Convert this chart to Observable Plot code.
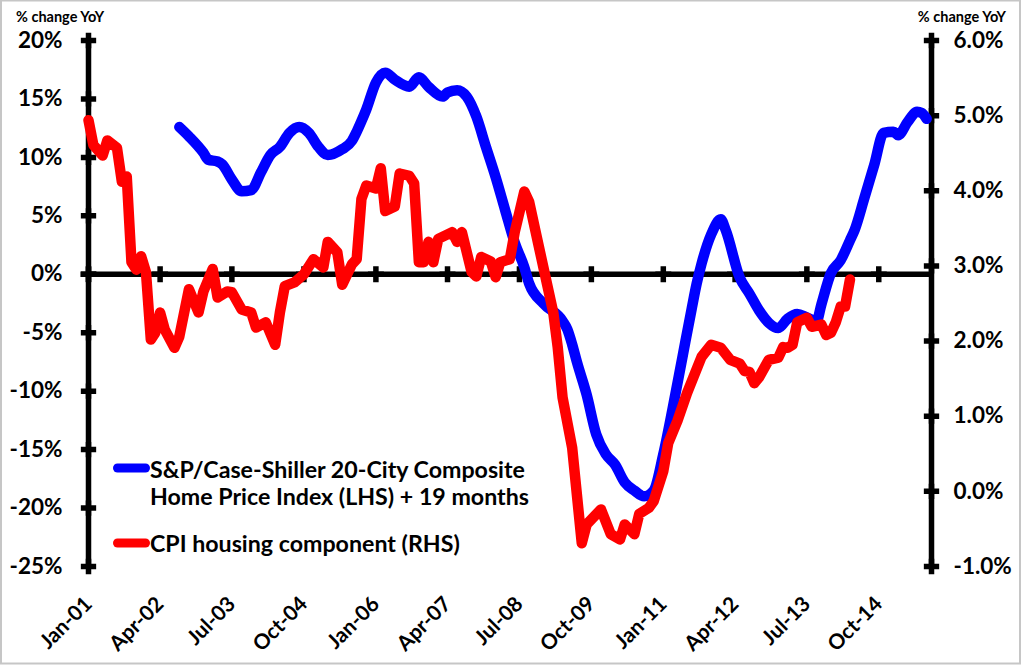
<!DOCTYPE html>
<html><head><meta charset="utf-8">
<script src="https://cdn.jsdelivr.net/npm/d3@7"></script>
<script src="https://cdn.jsdelivr.net/npm/@observablehq/plot@0.6"></script>
<style>body{margin:0;background:#fff;} #chart svg{display:block;}</style>
</head><body><div id="chart"></div>
<script>
// CPI housing component, % change YoY (right-hand scale)
const cpiDates = ["2001-01","2001-02","2001-04","2001-05","2001-07","2001-08","2001-09","2001-10","2001-11","2001-12",
"2002-01","2002-02","2002-03","2002-04","2002-05","2002-07","2002-08","2002-10","2002-12",
"2003-01","2003-03","2003-04","2003-06","2003-07","2003-09","2003-11","2003-12",
"2004-02","2004-04","2004-05","2004-06","2004-08","2004-10","2004-12",
"2005-02","2005-03","2005-05","2005-06","2005-08","2005-09","2005-10","2005-11",
"2006-01","2006-02","2006-03","2006-05","2006-06","2006-08","2006-09","2006-10","2006-11","2006-12",
"2007-01","2007-02","2007-05","2007-06","2007-07","2007-09","2007-10","2007-11",
"2008-01","2008-02","2008-03","2008-05","2008-06","2008-08","2008-09","2008-11",
"2009-02","2009-03","2009-04","2009-06","2009-08","2009-09","2009-12",
"2010-02","2010-04","2010-05","2010-07","2010-08","2010-10","2010-11",
"2011-01","2011-02","2011-04","2011-06","2011-09","2011-11",
"2012-01","2012-03","2012-05","2012-06","2012-07","2012-08","2012-09","2012-11",
"2013-01","2013-02","2013-03","2013-04","2013-05","2013-07","2013-08","2013-10","2013-11","2013-12",
"2014-01","2014-02","2014-03","2014-04"];
const cpiValues = [4.94,4.61,4.47,4.67,4.57,4.12,4.19,3.05,2.95,3.13,
2.92,2.02,2.11,2.38,2.15,1.91,2.06,2.69,2.38,
2.66,2.96,2.58,2.66,2.65,2.42,2.38,2.18,
2.25,1.95,2.38,2.73,2.78,2.89,3.09,
2.98,3.32,3.18,2.75,3.02,3.09,3.89,4.07,
4.03,4.30,3.73,3.79,4.23,4.20,4.10,3.05,3.05,3.32,
3.05,3.36,3.45,3.32,3.45,2.92,2.86,3.12,
3.06,2.85,3.05,3.09,3.45,3.99,3.85,3.26,
2.38,1.92,1.25,0.58,-0.69,-0.44,-0.24,
-0.57,-0.64,-0.44,-0.57,-0.30,-0.22,-0.13,
0.27,0.64,0.94,1.31,1.79,1.95,
1.91,1.75,1.70,1.60,1.59,1.44,1.52,1.75,
1.78,1.92,1.91,1.95,2.25,2.31,2.19,2.22,2.08,2.11,
2.25,2.46,2.46,2.82];

// S&P/Case-Shiller 20-City, % change YoY shifted +19 months (left-hand scale)
const hpiDates = ["2002-08","2002-10","2003-01","2003-02","2003-04","2003-05","2003-07","2003-09","2003-11",
"2004-01","2004-03","2004-05","2004-07","2004-09","2004-11",
"2005-01","2005-03","2005-06","2005-08","2005-09","2005-10","2005-11",
"2006-01","2006-03","2006-05","2006-08","2006-10","2006-12",
"2007-03","2007-04","2007-06","2007-08","2007-10","2007-12",
"2008-02","2008-04","2008-06","2008-08","2008-09","2008-12",
"2009-04","2009-05","2009-06","2009-07","2009-09","2009-11",
"2010-01","2010-03","2010-05","2010-07","2010-09","2010-11",
"2011-01","2011-03","2011-05","2011-07","2011-08","2011-09","2011-11",
"2012-01","2012-02","2012-05","2012-07","2012-09","2012-11",
"2013-01","2013-03","2013-05","2013-07","2013-09","2013-10","2013-12",
"2014-02","2014-04","2014-05","2014-07","2014-09","2014-11",
"2015-01","2015-02","2015-04","2015-06","2015-07","2015-08"];
const hpiValues = [12.6,11.8,10.4,9.8,9.65,9.4,8.1,7.1,7.2,
8.7,10.2,10.9,12.1,12.6,12.1,
10.9,10.2,10.7,11.4,12.2,13.1,14.1,
16.4,17.25,16.65,16.05,16.85,16.05,
15.2,15.55,15.75,15.2,13.5,10.9,
8.3,5.5,2.7,0.6,-0.8,-2.5,
-4.0,-4.7,-6.0,-7.5,-10.3,-13.7,
-15.4,-16.3,-17.8,-18.5,-19.0,-18.5,
-15.4,-11.5,-7.2,-2.9,-0.8,0.9,3.4,
4.7,3.8,-0.3,-1.65,-3.1,-4.15,
-4.6,-3.8,-3.4,-3.7,-4.0,-2.6,0.1,
1.2,2.9,3.8,6.5,9.3,12.1,
12.2,11.9,13.0,13.9,13.8,13.3];

const leftTicks = [-25,-20,-15,-10,-5,0,5,10,15,20];
const rightTicks = [-1,0,1,2,3,4,5,6];
const xTickDates = ["2001-01","2002-04","2003-07","2004-10","2006-01","2007-04","2008-07","2009-10","2011-01","2012-04","2013-07","2014-10"];
const xTickLabels = ["Jan-01","Apr-02","Jul-03","Oct-04","Jan-06","Apr-07","Jul-08","Oct-09","Jan-11","Apr-12","Jul-13","Oct-14"];
const legendLines = ["S&P/Case-Shiller 20-City Composite","Home Price Index (LHS) + 19 months","CPI housing component (RHS)"];
const axisTitle = "% change YoY";

const parse = d3.utcParse("%Y-%m");
const L0 = -25, L1 = 20, R0 = -1, R1 = 6;
const toLeft = r => L0 + (r - R0) * (L1 - L0) / (R1 - R0);
const fromLeft = v => R0 + (v - L0) * (R1 - R0) / (L1 - L0);

const hpi = hpiDates.map((d, i) => ({date: parse(d), value: hpiValues[i]}));
const cpi = cpiDates.map((d, i) => ({date: parse(d), value: toLeft(cpiValues[i])}));
const xStart = parse("2001-01"), xEnd = parse("2015-09");
const xTicks = xTickDates.map(parse);
const labelOf = new Map(xTicks.map((t, i) => [+t, xTickLabels[i]]));

const font = "Lato, 'Open Sans', sans-serif";

const plot = Plot.plot({
  width: 1024, height: 666,
  marginLeft: 88, marginRight: 93, marginTop: 40, marginBottom: 100,
  style: {fontFamily: font, background: "#fff", color: "#000"},
  x: {type: "utc", domain: [xStart, xEnd]},
  y: {domain: [L0, L1]},
  marks: [
    Plot.axisY(leftTicks, {anchor: "left", tickSize: 0, tickPadding: 26, tickFormat: d => d + "%", fontSize: 22.5, fontWeight: "bold", label: null}),
    Plot.axisY(rightTicks.map(toLeft), {anchor: "right", tickSize: 0, tickPadding: 22, tickFormat: d => (Math.round(fromLeft(d) * 10) / 10).toFixed(1) + "%", fontSize: 22.5, fontWeight: "bold", label: null}),
    Plot.axisX(xTicks, {anchor: "bottom", tickSize: 0, tickPadding: 34, tickRotate: -45, tickFormat: d => labelOf.get(+d), fontSize: 21, fontWeight: "bold", label: null}),
    Plot.ruleX([xStart, xEnd], {y1: L0, y2: L1, stroke: "#000", strokeWidth: 5.5}),
    Plot.ruleY([0], {x1: xStart, x2: xEnd, stroke: "#000", strokeWidth: 5.5}),
    Plot.dot(leftTicks, {x: () => xStart, y: d => d, symbol: "plus", r: 5, stroke: "#000", strokeWidth: 5.5}),
    Plot.dot(rightTicks, {x: () => xEnd, y: d => toLeft(d), symbol: "plus", r: 5, stroke: "#000", strokeWidth: 5.5}),
    Plot.dot(xTicks, {x: d => d, y: () => 0, symbol: "plus", r: 5.2, stroke: "#000", strokeWidth: 5.5}),
    Plot.line(hpi, {x: "date", y: "value", stroke: "#0000ff", strokeWidth: 10.5, curve: "monotone-x"}),
    Plot.line(cpi, {x: "date", y: "value", stroke: "#ff0000", strokeWidth: 10.5, curve: "linear"})
  ]
});

const svg = d3.select(plot);
const g = svg.append("g").attr("font-family", font).attr("font-weight", "bold").attr("fill", "#000").attr("text-anchor", "start");
g.append("text").attr("x", 16).attr("y", 22).attr("font-size", 14.5).attr("text-anchor", "start").text(axisTitle);
g.append("text").attr("x", 1006).attr("y", 22).attr("font-size", 14.5).attr("text-anchor", "end").text(axisTitle);
g.append("line").attr("x1", 117.5).attr("x2", 145.5).attr("y1", 468).attr("y2", 468)
  .attr("stroke", "#0000ff").attr("stroke-width", 9).attr("stroke-linecap", "round");
g.append("line").attr("x1", 117.5).attr("x2", 145.5).attr("y1", 543).attr("y2", 543)
  .attr("stroke", "#ff0000").attr("stroke-width", 9).attr("stroke-linecap", "round");
g.append("text").attr("x", 150).attr("y", 478).attr("font-size", 23.2).attr("text-anchor", "start").text(legendLines[0]);
g.append("text").attr("x", 150).attr("y", 505).attr("font-size", 23.2).attr("text-anchor", "start").text(legendLines[1]);
g.append("text").attr("x", 150).attr("y", 552).attr("font-size", 23.2).attr("text-anchor", "start").text(legendLines[2]);
svg.append("rect").attr("x", 1).attr("y", 0.5).attr("width", 1019).attr("height", 663)
  .attr("fill", "none").attr("stroke", "#c6c6c6").attr("stroke-width", 2);

document.getElementById("chart").appendChild(plot);
</script>
</body></html>
